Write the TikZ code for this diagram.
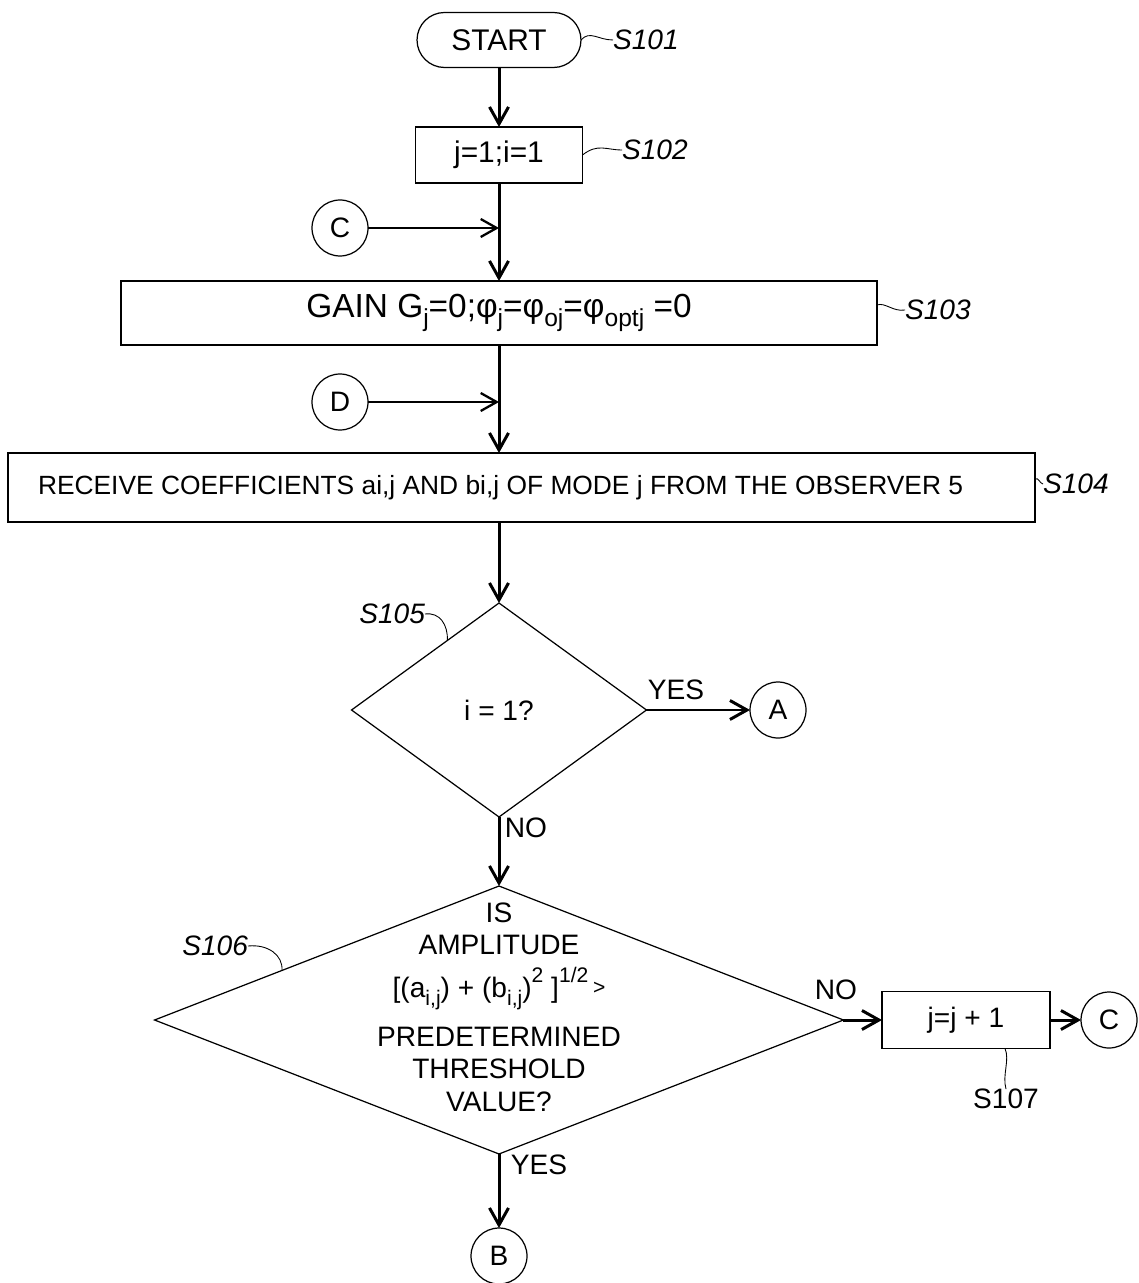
\documentclass[tikz,border=0pt]{standalone}
\usepackage{fontspec}
\setmainfont{Liberation Sans}
\usetikzlibrary{shapes.geometric,shapes.misc,arrows.meta,calc}
\newcommand\lo[1]{\raisebox{-0.55ex}{\fontsize{12}{12}\selectfont #1}}
\newcommand\hi[1]{\raisebox{1.0ex}{\fontsize{12}{12}\selectfont #1}}
\newcommand\loo[1]{\raisebox{-0.55ex}{\fontsize{14}{14}\selectfont #1}}
\begin{document}
\begin{tikzpicture}[x=0.02cm,y=-0.02cm,
  every node/.style={font=\fontsize{16}{19}\selectfont, outer sep=0pt},
  box/.style={draw, line width=0.7pt, inner sep=0pt},
  term/.style={draw, rounded rectangle, line width=0.7pt, inner sep=0pt, minimum width=3.28cm, minimum height=1.1cm},
  dec/.style={draw, diamond, line width=0.7pt, inner sep=0pt},
  conn/.style={draw, circle, line width=0.7pt, inner sep=0pt, minimum size=1.12cm},
  flow/.style={line width=1.7pt, -{Straight Barb[length=0.34cm,width=0.38cm]}},
  feed/.style={line width=1.3pt, -{Straight Barb[length=0.32cm,width=0.36cm]}},
  lead/.style={line width=0.5pt},
  tag/.style={font=\fontsize{16}{19}\selectfont\itshape, inner sep=0pt},
  plaintag/.style={font=\fontsize{16}{19}\selectfont, inner sep=0pt},
]
\useasboundingbox (0,0) rectangle (1138,1283);

% nodes
\node[term, font=\fontsize{17}{19}\selectfont] (start) at (499,40) {START};
\node[box, minimum width=3.34cm, minimum height=1.12cm, font=\fontsize{17}{19}\selectfont] (s102) at (499,155) {j=1;i=1};
\node[conn] (cC) at (340,228) {C};
\node[box, minimum width=15.12cm, minimum height=1.28cm, font=\fontsize{19}{21}\selectfont] (s103) at (499,313)
  {GAIN G\loo{j}=0;φ\loo{j}=φ\loo{oj}=φ\loo{optj} =0};
\node[conn] (cD) at (340,402) {D};
\node[box, minimum width=20.54cm, minimum height=1.38cm, font=\fontsize{15}{18}\selectfont] (s104) at (521.5,487.5)
  {RECEIVE COEFFICIENTS ai,j AND bi,j OF MODE j FROM THE OBSERVER 5\hspace*{0.84cm}};
\node[dec, minimum width=5.9cm, minimum height=4.28cm] (d105) at (499,710) {i = 1?};
\node[conn] (cA) at (778,710) {A};
\node[dec, minimum width=13.78cm, minimum height=5.36cm] (d106) at (499,1020) {};
\node[align=center, font=\fontsize{16}{18.5}\selectfont, inner sep=0pt] (t106) at (499,1007)
  {IS\\ AMPLITUDE\\[6pt] [(a\lo{i,j}) + (b\lo{i,j})\hi{2} ]\hi{1/2}\,{\fontsize{12}{12}\selectfont\raisebox{0.3ex}{>}}\\[9pt] PREDETERMINED\\ THRESHOLD\\ VALUE?};
\node[box, minimum width=3.36cm, minimum height=1.14cm] (s107) at (966,1020) {j=j + 1};
\node[conn] (cC2) at (1109,1020) {C};
\node[conn] (cB) at (499,1256) {B};

% step labels
\node[tag, anchor=west] (l101) at (613,40) {S101};
\node[tag, anchor=west] (l102) at (622,150) {S102};
\node[tag, anchor=west] (l103) at (905,310) {S103};
\node[tag, anchor=west] (l104) at (1043,484) {S104};
\node[tag, anchor=east] (l105) at (425,614) {S105};
\node[tag, anchor=east] (l106) at (248,946) {S106};
\node[plaintag] (l107) at (1006,1099) {S107};

% branch labels
\node (yes1) at (676,690) {YES};
\node (no1) at (526,828) {NO};
\node (no2) at (836,990) {NO};
\node (yes2) at (539,1165) {YES};

% connectors
\draw[flow] (start.south) -- (s102.north);
\draw[flow] (s102.south) -- (s103.north);
\draw[feed] (cC.east) -- (cC.east -| s102.south);
\draw[flow] (s103.south) -- (s103.south |- s104.north);
\draw[feed] (cD.east) -- (cD.east -| s103.south);
\draw[flow] (d105.north |- s104.south) -- (d105.north);
\draw[flow] (d105.east) -- (cA.west);
\draw[flow] (d105.south) -- (d106.north);
\draw[flow] (d106.east) -- (s107.west);
\draw[flow] (s107.east) -- (cC2.west);
\draw[flow] (d106.south) -- (cB.north);

% leader lines
\draw[lead] (start.east) .. controls (590,30) and (598,40) .. (l101.west);
\draw[lead] (s102.east) .. controls (598,143) and (606,150) .. (l102.west);
\draw[lead] (s103.east) ++(0,-8) .. controls (885,302) and (893,312) .. (l103.west);
\draw[lead] (s104.east) ++(0,-8) .. controls (1038,476) and (1040,484) .. (l104.west);
\draw[lead] (l105.east) .. controls (440,612) and (448,625) .. ($(d105.north)!0.35!(d105.west)$);
\draw[lead] (l106.east) .. controls (268,944) and (283,955) .. ($(d106.west)!0.37!(d106.north)$);
\draw[lead] ($(s107.south)+(39,0)$) .. controls (1010,1060) and (1002,1075) .. (l107.north);
\end{tikzpicture}
\end{document}
